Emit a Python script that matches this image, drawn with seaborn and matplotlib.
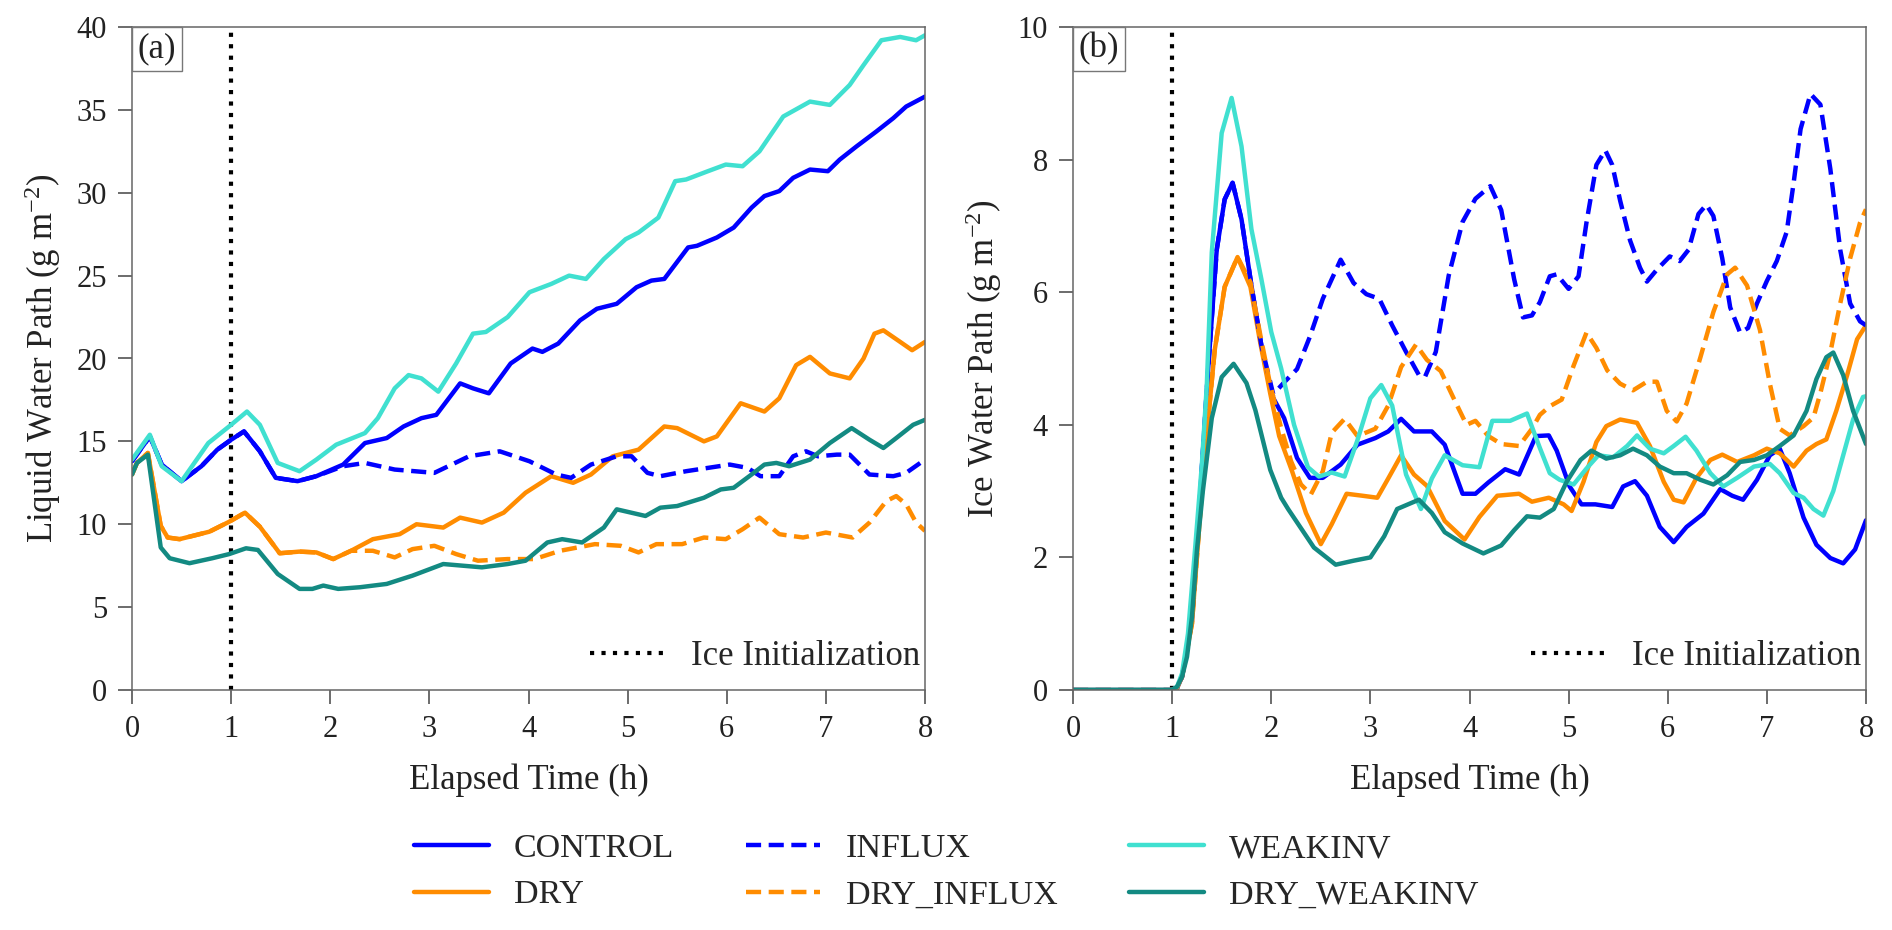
import numpy as np
import pandas as pd
import matplotlib
matplotlib.use("Agg")
import matplotlib.pyplot as plt
import seaborn as sns
from matplotlib.lines import Line2D
from matplotlib.offsetbox import AnchoredText

# ---------------- data ----------------
runs = ["CONTROL", "DRY", "INFLUX", "DRY_INFLUX", "WEAKINV", "DRY_WEAKINV"]
colors = {"CONTROL": "#0000ff", "DRY": "#ff8c00", "INFLUX": "#0000ff",
          "DRY_INFLUX": "#ff8c00", "WEAKINV": "#40e0d0", "DRY_WEAKINV": "#138a82"}
dash_styles = {"CONTROL": "", "DRY": "", "INFLUX": (3.4, 1.7),
               "DRY_INFLUX": (3.4, 1.7), "WEAKINV": "", "DRY_WEAKINV": ""}

x_ticks = [0, 1, 2, 3, 4, 5, 6, 7, 8]
lwp_ticks = [0, 5, 10, 15, 20, 25, 30, 35, 40]
iwp_ticks = [0, 2, 4, 6, 8, 10]
ice_init_time = 1.0

# (a) Liquid water path (g m-2)
lwp_t_control = [0, 0.18, 0.3, 0.5, 0.7, 0.86, 1.0, 1.13, 1.29, 1.45, 1.67, 1.86, 2.13, 2.35, 2.57,
                 2.74, 2.92, 3.07, 3.31, 3.44, 3.6, 3.82, 4.04, 4.14, 4.3, 4.52, 4.69, 4.89, 5.09,
                 5.24, 5.37, 5.61, 5.7, 5.9, 6.07, 6.25, 6.38, 6.53, 6.67, 6.84, 7.02, 7.14, 7.31,
                 7.51, 7.68, 7.81, 8.0]
lwp_v_control = [13.8, 15.3, 13.6, 12.6, 13.5, 14.5, 15.1, 15.6, 14.4, 12.8, 12.6, 12.9, 13.6, 14.9,
                 15.2, 15.9, 16.4, 16.6, 18.5, 18.2, 17.9, 19.7, 20.6, 20.4, 20.9, 22.3, 23.0, 23.3,
                 24.3, 24.7, 24.8, 26.7, 26.8, 27.3, 27.9, 29.1, 29.8, 30.1, 30.9, 31.4, 31.3, 32.0,
                 32.8, 33.7, 34.5, 35.2, 35.8]

lwp_t_influx = [0, 0.18, 0.3, 0.5, 0.7, 0.86, 1.0, 1.13, 1.29, 1.45, 1.67, 1.86, 2.13, 2.35, 2.65,
                3.05, 3.4, 3.71, 4.01, 4.28, 4.43, 4.63, 4.89, 5.04, 5.2, 5.33, 5.59, 6.03, 6.21,
                6.34, 6.53, 6.67, 6.8, 6.92, 7.11, 7.24, 7.44, 7.68, 7.81, 8.0]
lwp_v_influx = [13.8, 15.3, 13.6, 12.6, 13.5, 14.5, 15.1, 15.6, 14.4, 12.8, 12.6, 12.9, 13.5, 13.7,
                13.3, 13.1, 14.1, 14.4, 13.8, 13.0, 12.8, 13.6, 14.1, 14.1, 13.1, 12.9, 13.2, 13.6,
                13.4, 12.9, 12.9, 14.1, 14.4, 14.1, 14.2, 14.2, 13.0, 12.9, 13.1, 13.9]

lwp_t_weakinv = [0, 0.18, 0.3, 0.5, 0.77, 1.0, 1.16, 1.29, 1.47, 1.69, 1.86, 2.06, 2.35, 2.48, 2.65,
                 2.79, 2.92, 3.09, 3.27, 3.44, 3.57, 3.79, 4.01, 4.23, 4.41, 4.58, 4.76, 4.98, 5.11,
                 5.31, 5.48, 5.59, 5.81, 5.99, 6.16, 6.33, 6.57, 6.84, 7.04, 7.24, 7.38, 7.56, 7.75,
                 7.91, 8.0]
lwp_v_weakinv = [13.9, 15.4, 13.5, 12.6, 14.9, 16.0, 16.8, 16.0, 13.7, 13.2, 13.9, 14.8, 15.5, 16.4,
                 18.2, 19.0, 18.8, 18.0, 19.7, 21.5, 21.6, 22.5, 24.0, 24.5, 25.0, 24.8, 26.0, 27.2,
                 27.6, 28.5, 30.7, 30.8, 31.3, 31.7, 31.6, 32.5, 34.6, 35.5, 35.3, 36.5, 37.7, 39.2,
                 39.4, 39.2, 39.5]

lwp_t_dry = [0, 0.05, 0.16, 0.29, 0.36, 0.48, 0.78, 0.98, 1.14, 1.29, 1.49, 1.69, 1.86, 2.03, 2.21,
             2.43, 2.7, 2.87, 3.14, 3.31, 3.53, 3.75, 3.97, 4.23, 4.45, 4.63, 4.85, 5.11, 5.37, 5.5,
             5.77, 5.9, 6.14, 6.38, 6.53, 6.7, 6.84, 7.04, 7.24, 7.38, 7.49, 7.58, 7.75, 7.87, 8.0]
lwp_v_dry = [13.0, 13.7, 14.3, 9.9, 9.2, 9.1, 9.55, 10.15, 10.7, 9.85, 8.25, 8.35, 8.3, 7.9, 8.4,
             9.1, 9.4, 10.0, 9.8, 10.4, 10.1, 10.7, 11.9, 12.9, 12.5, 13.0, 14.1, 14.5, 15.9, 15.8,
             15.0, 15.3, 17.3, 16.8, 17.6, 19.6, 20.1, 19.1, 18.8, 20.0, 21.5, 21.7, 21.0, 20.5, 21.0]

lwp_t_dry_influx = [0, 0.05, 0.16, 0.29, 0.36, 0.48, 0.78, 0.98, 1.14, 1.29, 1.49, 1.69, 1.86, 2.03,
                    2.21, 2.43, 2.65, 2.83, 3.05, 3.27, 3.49, 3.79, 4.06, 4.32, 4.67, 4.93, 5.11,
                    5.29, 5.55, 5.77, 5.99, 6.16, 6.33, 6.53, 6.77, 7.0, 7.27, 7.44, 7.61, 7.71,
                    7.81, 7.91, 8.0]
lwp_v_dry_influx = [13.0, 13.7, 14.3, 9.9, 9.2, 9.1, 9.55, 10.15, 10.7, 9.85, 8.25, 8.35, 8.3, 7.9,
                    8.4, 8.4, 8.0, 8.5, 8.7, 8.2, 7.8, 7.9, 7.9, 8.4, 8.8, 8.7, 8.3, 8.8, 8.8, 9.2,
                    9.1, 9.7, 10.4, 9.4, 9.2, 9.5, 9.2, 10.1, 11.4, 11.7, 11.2, 10.1, 9.6]

lwp_t_dry_weakinv = [0, 0.05, 0.16, 0.29, 0.38, 0.58, 0.81, 0.98, 1.15, 1.27, 1.47, 1.69, 1.82, 1.93,
                     2.08, 2.3, 2.57, 2.83, 3.14, 3.53, 3.79, 3.97, 4.19, 4.34, 4.54, 4.76, 4.89,
                     5.18, 5.33, 5.5, 5.77, 5.94, 6.07, 6.25, 6.38, 6.5, 6.63, 6.84, 7.04, 7.26,
                     7.44, 7.58, 7.71, 7.88, 8.0]
lwp_v_dry_weakinv = [13.0, 13.7, 14.2, 8.6, 7.95, 7.65, 7.95, 8.2, 8.55, 8.45, 7.0, 6.1, 6.1, 6.3,
                     6.1, 6.2, 6.4, 6.9, 7.6, 7.4, 7.6, 7.8, 8.9, 9.1, 8.9, 9.8, 10.9, 10.5, 11.0,
                     11.1, 11.6, 12.1, 12.2, 13.0, 13.6, 13.7, 13.5, 13.9, 14.9, 15.8, 15.1, 14.6,
                     15.2, 16.0, 16.3]

# (b) Ice water path (g m-2)
iwp_t_control = [0, 1.0, 1.05, 1.1, 1.2, 1.28, 1.365, 1.45, 1.53, 1.61, 1.7, 1.8, 1.9, 2.0, 2.13,
                 2.26, 2.39, 2.52, 2.7, 2.87, 3.05, 3.18, 3.31, 3.44, 3.62, 3.75, 3.93, 4.06, 4.19,
                 4.36, 4.5, 4.67, 4.8, 4.88, 5.01, 5.13, 5.27, 5.44, 5.55, 5.67, 5.79, 5.92, 6.06,
                 6.19, 6.36, 6.53, 6.65, 6.76, 6.9, 7.03, 7.13, 7.23, 7.37, 7.5, 7.64, 7.77, 7.89, 8.0]
iwp_v_control = [0, 0, 0.03, 0.2, 1.05, 2.87, 4.88, 6.64, 7.4, 7.65, 7.1, 6.1, 5.2, 4.46, 4.1,
                 3.5, 3.2, 3.2, 3.4, 3.7, 3.8, 3.9, 4.09, 3.9, 3.9, 3.7, 2.96, 2.96, 3.13,
                 3.33, 3.25, 3.83, 3.84, 3.61, 3.07, 2.8, 2.8, 2.76, 3.07, 3.15, 2.93, 2.46, 2.23,
                 2.46, 2.66, 3.03, 2.93, 2.87, 3.17, 3.54, 3.64, 3.27, 2.6, 2.19, 1.99, 1.91, 2.12, 2.56]

iwp_t_influx = [0, 1.0, 1.05, 1.1, 1.2, 1.28, 1.365, 1.45, 1.53, 1.61, 1.7, 1.8, 1.9, 2.02, 2.13,
                2.26, 2.39, 2.52, 2.7, 2.83, 2.96, 3.09, 3.22, 3.36, 3.49, 3.55, 3.66, 3.79, 3.93,
                4.06, 4.21, 4.32, 4.45, 4.54, 4.63, 4.71, 4.81, 4.88, 5.0, 5.1, 5.18, 5.28, 5.37,
                5.44, 5.52, 5.62, 5.72, 5.79, 5.89, 6.02, 6.12, 6.21, 6.31, 6.39, 6.46, 6.55, 6.63,
                6.73, 6.81, 6.9, 7.0, 7.1, 7.2, 7.27, 7.34, 7.44, 7.54, 7.64, 7.74, 7.84, 7.94, 8.0]
iwp_v_influx = [0, 0, 0.03, 0.2, 1.05, 2.87, 4.88, 6.64, 7.4, 7.65, 7.1, 6.1, 5.2, 4.46, 4.64,
                4.84, 5.33, 5.9, 6.49, 6.14, 5.97, 5.9, 5.5, 5.1, 4.75, 4.72, 5.1, 6.25, 7.06,
                7.41, 7.6, 7.24, 6.2, 5.62, 5.65, 5.85, 6.24, 6.27, 6.05, 6.24, 7.05, 7.92, 8.14,
                7.92, 7.38, 6.78, 6.37, 6.16, 6.34, 6.54, 6.47, 6.64, 7.18, 7.32, 7.15, 6.51, 5.77,
                5.39, 5.46, 5.83, 6.17, 6.47, 6.91, 7.65, 8.46, 8.99, 8.83, 7.86, 6.64, 5.83, 5.56, 5.5]

iwp_t_weakinv = [0, 1.0, 1.05, 1.1, 1.16, 1.23, 1.3, 1.35, 1.4, 1.5, 1.6, 1.7, 1.8, 1.9, 2.0, 2.1,
                 2.23, 2.37, 2.48, 2.61, 2.74, 2.87, 3.0, 3.11, 3.22, 3.36, 3.51, 3.62, 3.75, 3.93,
                 4.1, 4.23, 4.41, 4.58, 4.71, 4.81, 4.91, 5.05, 5.18, 5.3, 5.45, 5.59, 5.69, 5.82,
                 5.96, 6.06, 6.18, 6.29, 6.43, 6.56, 6.7, 6.87, 7.03, 7.13, 7.27, 7.37, 7.47, 7.57,
                 7.67, 7.77, 7.87, 7.97, 8.0]
iwp_v_weakinv = [0, 0, 0.05, 0.25, 0.85, 2.1, 3.4, 4.6, 6.6, 8.4, 8.93, 8.2, 6.95, 6.2, 5.4, 4.85,
                 4.0, 3.36, 3.22, 3.28, 3.22, 3.77, 4.4, 4.6, 4.29, 3.25, 2.73, 3.19, 3.54, 3.39,
                 3.36, 4.06, 4.06, 4.17, 3.65, 3.27, 3.17, 3.1, 3.34, 3.54, 3.51, 3.68, 3.84, 3.64,
                 3.57, 3.68, 3.82, 3.61, 3.27, 3.07, 3.2, 3.37, 3.41, 3.27, 2.97, 2.9, 2.73, 2.63,
                 3.0, 3.54, 4.08, 4.42, 4.43]

iwp_t_dry = [0, 1.0, 1.05, 1.1, 1.2, 1.28, 1.35, 1.43, 1.53, 1.66, 1.79, 1.89, 1.99, 2.08, 2.21,
             2.35, 2.5, 2.61, 2.76, 2.92, 3.07, 3.18, 3.31, 3.44, 3.57, 3.75, 3.95, 4.1, 4.28, 4.5,
             4.63, 4.8, 4.95, 5.03, 5.15, 5.28, 5.38, 5.52, 5.69, 5.82, 5.96, 6.06, 6.16, 6.29,
             6.43, 6.55, 6.7, 6.87, 7.0, 7.13, 7.27, 7.4, 7.5, 7.6, 7.7, 7.81, 7.91, 8.0]
iwp_v_dry = [0, 0, 0.03, 0.2, 1.0, 2.6, 3.87, 5.13, 6.08, 6.53, 6.08, 5.23, 4.47, 3.83, 3.3,
             2.67, 2.2, 2.5, 2.96, 2.93, 2.9, 3.19, 3.54, 3.25, 3.08, 2.55, 2.27, 2.61, 2.93, 2.96,
             2.84, 2.9, 2.8, 2.7, 3.14, 3.74, 3.98, 4.08, 4.03, 3.68, 3.14, 2.87, 2.83, 3.2,
             3.47, 3.55, 3.44, 3.54, 3.64, 3.57, 3.37, 3.61, 3.71, 3.78, 4.21, 4.75, 5.29, 5.5]

iwp_t_dry_influx = [0, 1.0, 1.05, 1.1, 1.2, 1.28, 1.35, 1.43, 1.53, 1.66, 1.79, 1.89, 1.99, 2.1,
                    2.2, 2.3, 2.4, 2.52, 2.61, 2.74, 2.87, 3.05, 3.18, 3.31, 3.46, 3.57, 3.71, 3.84,
                    3.97, 4.06, 4.19, 4.32, 4.5, 4.63, 4.71, 4.81, 4.93, 5.05, 5.18, 5.28, 5.39,
                    5.52, 5.65, 5.79, 5.89, 5.99, 6.09, 6.19, 6.33, 6.46, 6.6, 6.68, 6.8, 6.93,
                    7.03, 7.13, 7.23, 7.37, 7.47, 7.54, 7.64, 7.74, 7.84, 7.94, 8.0]
iwp_v_dry_influx = [0, 0, 0.03, 0.2, 1.0, 2.6, 3.87, 5.13, 6.08, 6.53, 6.15, 5.35, 4.6, 3.95,
                    3.45, 3.1, 2.95, 3.3, 3.88, 4.09, 3.83, 3.94, 4.29, 4.87, 5.21, 4.98, 4.81, 4.4,
                    4.0, 4.06, 3.83, 3.71, 3.68, 3.94, 4.15, 4.28, 4.38, 4.89, 5.39, 5.16, 4.82,
                    4.62, 4.52, 4.65, 4.65, 4.21, 4.05, 4.32, 5.02, 5.7, 6.27, 6.37, 6.1, 5.43,
                    4.62, 3.94, 3.84, 3.98, 4.11, 4.48, 5.09, 5.83, 6.51, 7.05, 7.25]

iwp_t_dry_weakinv = [0, 1.0, 1.05, 1.1, 1.15, 1.2, 1.25, 1.31, 1.4, 1.5, 1.62, 1.75, 1.84, 1.99,
                     2.1, 2.17, 2.3, 2.43, 2.65, 2.83, 3.0, 3.14, 3.27, 3.49, 3.62, 3.75, 3.93, 4.14,
                     4.32, 4.45, 4.58, 4.71, 4.85, 4.98, 5.12, 5.23, 5.38, 5.52, 5.65, 5.79, 5.92,
                     6.06, 6.19, 6.33, 6.46, 6.6, 6.73, 6.87, 7.0, 7.13, 7.27, 7.4, 7.5, 7.6, 7.67,
                     7.77, 7.87, 8.0]
iwp_v_dry_weakinv = [0, 0, 0.05, 0.2, 0.5, 1.1, 2.1, 3.0, 4.1, 4.72, 4.92, 4.63, 4.22, 3.32,
                     2.9, 2.73, 2.44, 2.15, 1.89, 1.95, 2.0, 2.32, 2.73, 2.87, 2.67, 2.38, 2.21, 2.06,
                     2.18, 2.41, 2.62, 2.6, 2.73, 3.14, 3.47, 3.61, 3.49, 3.54, 3.64, 3.54, 3.37,
                     3.27, 3.27, 3.17, 3.1, 3.24, 3.44, 3.47, 3.54, 3.68, 3.84, 4.21, 4.69, 5.02, 5.09,
                     4.75, 4.21, 3.71]

lwp_series = {"CONTROL": (lwp_t_control, lwp_v_control), "DRY": (lwp_t_dry, lwp_v_dry),
              "INFLUX": (lwp_t_influx, lwp_v_influx), "DRY_INFLUX": (lwp_t_dry_influx, lwp_v_dry_influx),
              "WEAKINV": (lwp_t_weakinv, lwp_v_weakinv),
              "DRY_WEAKINV": (lwp_t_dry_weakinv, lwp_v_dry_weakinv)}
iwp_series = {"CONTROL": (iwp_t_control, iwp_v_control), "DRY": (iwp_t_dry, iwp_v_dry),
              "INFLUX": (iwp_t_influx, iwp_v_influx), "DRY_INFLUX": (iwp_t_dry_influx, iwp_v_dry_influx),
              "WEAKINV": (iwp_t_weakinv, iwp_v_weakinv),
              "DRY_WEAKINV": (iwp_t_dry_weakinv, iwp_v_dry_weakinv)}


def to_frame(series):
    parts = []
    for run in runs:
        t, v = series[run]
        parts.append(pd.DataFrame({"time": t, "value": v, "run": run}))
    return pd.concat(parts, ignore_index=True)


df_lwp = to_frame(lwp_series)
df_iwp = to_frame(iwp_series)

# ---------------- style ----------------
sns.set_style("ticks")
plt.rcParams["font.family"] = ["Liberation Serif", "DejaVu Serif"]
plt.rcParams["mathtext.fontset"] = "custom"
plt.rcParams["mathtext.rm"] = "Liberation Serif"
plt.rcParams["mathtext.it"] = "Liberation Serif:italic"
plt.rcParams["mathtext.bf"] = "Liberation Serif:bold"
plt.rcParams["axes.unicode_minus"] = True
plt.rcParams["lines.solid_joinstyle"] = "round"
plt.rcParams["lines.dash_joinstyle"] = "round"

W, H = 1892, 930
fig = plt.figure(figsize=(W / 100, H / 100), dpi=100)
ax1 = fig.add_axes([132 / W, 1 - 690 / H, 793 / W, 663 / H])
ax2 = fig.add_axes([1073 / W, 1 - 690 / H, 793 / W, 663 / H])

LW = 3.2
FS_TICK = 22
FS_LABEL = 25
FS_LEG = 24.5

panels = [
    (ax1, df_lwp, lwp_ticks, r"Liquid Water Path (g m$^{-2}$)", "(a)"),
    (ax2, df_iwp, iwp_ticks, r"Ice Water Path (g m$^{-2}$)", "(b)"),
]

for ax, df, yt, ylabel, tag in panels:
    sns.lineplot(data=df, x="time", y="value", hue="run", style="run",
                 hue_order=runs, style_order=runs, palette=colors, dashes=dash_styles,
                 estimator=None, sort=True, linewidth=LW, legend=False, ax=ax)
    ax.axvline(ice_init_time, color="black", linewidth=3.0, dashes=(1, 1.75), zorder=1)
    ax.set_xlim(x_ticks[0], x_ticks[-1])
    ax.set_ylim(yt[0], yt[-1])
    ax.set_xticks(x_ticks)
    ax.set_yticks(yt)
    ax.tick_params(axis="both", which="major", direction="out", length=10, width=1.1,
                   color="#444444", labelsize=FS_TICK, pad=8, labelcolor="#222222",
                   top=False, right=False)
    ax.set_xlabel("Elapsed Time (h)", fontsize=FS_LABEL, labelpad=14, color="#222222")
    ax.set_ylabel(ylabel, fontsize=FS_LABEL, labelpad=10, color="#222222")
    for sp in ax.spines.values():
        sp.set_visible(True)
        sp.set_color("#666666")
        sp.set_linewidth(1.1)
    at = AnchoredText(tag, loc="upper left", frameon=True, borderpad=0, pad=0.16,
                      prop=dict(size=FS_LABEL, color="#222222"))
    at.patch.set_edgecolor("#777777")
    at.patch.set_linewidth(1.0)
    at.patch.set_boxstyle("square,pad=0")
    ax.add_artist(at)
    ice_handle = Line2D([], [], color="black", linewidth=3.0, dashes=(1, 1.75))
    ax.legend([ice_handle], ["Ice Initialization"], loc="lower right",
              bbox_to_anchor=(1.0, 0.018), frameon=False,
              fontsize=FS_LABEL, handlelength=2.1, handletextpad=0.8, borderaxespad=0.0,
              borderpad=0.15)

handles = []
for r in runs:
    h = Line2D([], [], color=colors[r], linewidth=LW)
    if dash_styles[r]:
        h.set_dashes(dash_styles[r])
    handles.append(h)
fig.legend(handles, runs, ncol=3, loc="center", bbox_to_anchor=(0.5, 1 - 872 / H),
           frameon=False, fontsize=FS_LEG, handlelength=2.2, handletextpad=0.74,
           columnspacing=2.1, labelspacing=0.45)

fig.savefig("out.png", dpi=100, facecolor="white")
